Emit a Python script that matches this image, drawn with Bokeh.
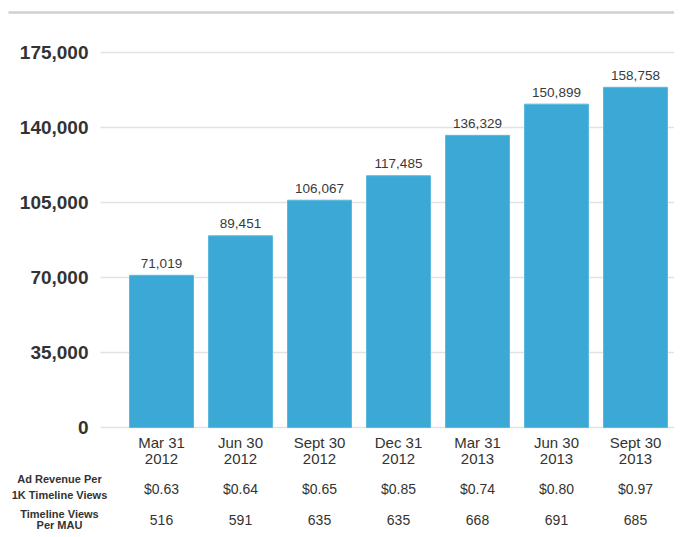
from bokeh.plotting import figure
from bokeh.models import Range1d, ColumnDataSource
from bokeh.core.properties import value
from bokeh.embed import file_html
from bokeh.resources import INLINE

# ---- data ----
categories = ["Mar 31\n2012", "Jun 30\n2012", "Sept 30\n2012", "Dec 31\n2012",
              "Mar 31\n2013", "Jun 30\n2013", "Sept 30\n2013"]
timeline_views = [71019, 89451, 106067, 117485, 136329, 150899, 158758]
ad_revenue_per_1k = ["$0.63", "$0.64", "$0.65", "$0.85", "$0.74", "$0.80", "$0.97"]
views_per_mau = [516, 591, 635, 635, 668, 691, 685]
y_ticks = [0, 35000, 70000, 105000, 140000, 175000]
row_labels = [["Ad Revenue Per", "1K Timeline Views"], ["Timeline Views", "Per MAU"]]

# ---- geometry (picture pixels -> data) ----
W, H = 674, 529
ORIGIN = 0
bar_c0, bar_step = 161, 79          # picture x of first bar centre, spacing
y_top_px, y_zero_px = 52, 427       # picture y of 175,000 and 0
ky = 175000 / (y_zero_px - y_top_px)
ymax = 175000 + (y_top_px - ORIGIN) * ky
ymin = ymax - H * ky
xmin = -(bar_c0 - ORIGIN) / bar_step
xmax = xmin + W / bar_step

def py(pic_y):
    return ymax - (pic_y - ORIGIN) * ky

def px(pic_x):
    return (pic_x - bar_c0) / bar_step

FONT = value("Liberation Sans")
TXT = "#333333"

p = figure(width=W, height=H, output_backend="svg", toolbar_location=None,
           x_range=Range1d(xmin, xmax), y_range=Range1d(ymin, ymax),
           min_border=0, outline_line_color=None)
p.axis.visible = False
p.grid.visible = False
p.background_fill_color = "white"

xs = list(range(len(categories)))

# top separator line
p.segment(x0=[px(8)], x1=[xmax], y0=[py(12)], y1=[py(12)],
          line_color="#d0d0d0", line_width=2.5)

# gridlines
p.segment(x0=[px(100)] * len(y_ticks), x1=[xmax] * len(y_ticks), y0=y_ticks, y1=y_ticks,
          line_color="#e2e2e2", line_width=1.5)

# y tick labels
p.text(x=[px(88)] * len(y_ticks), y=y_ticks, text=[f"{t:,}" for t in y_ticks],
       text_font=FONT, text_font_size="19px", text_font_style="bold",
       text_color=TXT, text_align="right", text_baseline="middle")

# bars
src = ColumnDataSource(dict(x=xs, top=timeline_views,
                            lab=[f"{v:,}" for v in timeline_views],
                            laby=[v + 12 * ky for v in timeline_views]))
p.vbar(x="x", top="top", bottom=0, width=64 / bar_step, source=src,
       fill_color="#3ca8d5", line_color="#5bb8de", line_width=1)

# value labels
p.text(x="x", y="laby", text="lab", source=src, text_font=FONT, text_font_size="13.5px",
       text_color="#3a3a3a", text_align="center", text_baseline="middle")

# category labels
line1 = [c.split("\n")[0] for c in categories]
line2 = [c.split("\n")[1] for c in categories]
p.text(x=xs, y=[py(442)] * len(xs), text=line1, text_font=FONT, text_font_size="15px",
       text_color=TXT, text_align="center", text_baseline="middle")
p.text(x=xs, y=[py(458)] * len(xs), text=line2, text_font=FONT, text_font_size="15px",
       text_color=TXT, text_align="center", text_baseline="middle")

# table rows
p.text(x=xs, y=[py(488)] * len(xs), text=ad_revenue_per_1k, text_font=FONT,
       text_font_size="14px", text_color=TXT, text_align="center", text_baseline="middle")
p.text(x=xs, y=[py(519)] * len(xs), text=[str(v) for v in views_per_mau], text_font=FONT,
       text_font_size="14px", text_color=TXT, text_align="center", text_baseline="middle")

row_y = [[478, 494], [513, 524]]
for labs, ys in zip(row_labels, row_y):
    p.text(x=[px(59)] * 2, y=[py(v) for v in ys], text=labs, text_font=FONT,
           text_font_size="11px", text_font_style="bold", text_color=TXT,
           text_align="center", text_baseline="middle")

open("out.html", "w").write(file_html(p, INLINE))
